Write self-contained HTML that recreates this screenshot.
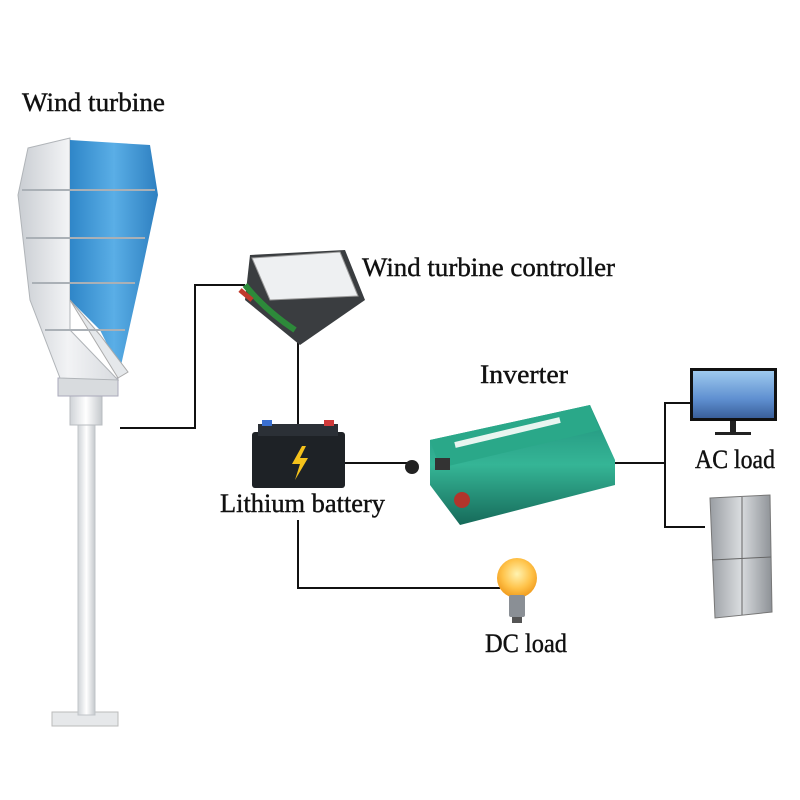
<!DOCTYPE html>
<html><head><meta charset="utf-8"><style>
html,body{margin:0;padding:0;background:#fff;}
svg{display:block}
text{font-family:"Liberation Serif",serif;font-size:26px;fill:#111;stroke:#111;stroke-width:0.4;}
</style></head><body>
<svg width="800" height="800" viewBox="0 0 800 800" xmlns="http://www.w3.org/2000/svg">
<defs>
<linearGradient id="blue" x1="0" x2="1"><stop offset="0" stop-color="#2f86c8"/><stop offset="0.5" stop-color="#5aaee6"/><stop offset="1" stop-color="#2d7fc0"/></linearGradient>
<linearGradient id="white" x1="0" x2="1"><stop offset="0" stop-color="#c9cdd2"/><stop offset="0.5" stop-color="#f2f3f5"/><stop offset="1" stop-color="#d8dbdf"/></linearGradient>
<linearGradient id="pole" x1="0" x2="1"><stop offset="0" stop-color="#cfd3d7"/><stop offset="0.5" stop-color="#ffffff"/><stop offset="1" stop-color="#c4c8cc"/></linearGradient>
<linearGradient id="green" x1="0" y1="0" x2="0" y2="1"><stop offset="0" stop-color="#1f8f7a"/><stop offset="0.5" stop-color="#35b596"/><stop offset="1" stop-color="#166a5a"/></linearGradient>
<linearGradient id="screen" x1="0" y1="0" x2="0" y2="1"><stop offset="0" stop-color="#9ec9ee"/><stop offset="0.6" stop-color="#5e8fd0"/><stop offset="1" stop-color="#3a5f9a"/></linearGradient>
<linearGradient id="fridge" x1="0" x2="1"><stop offset="0" stop-color="#9a9ea3"/><stop offset="0.5" stop-color="#d9dcdf"/><stop offset="1" stop-color="#8d9196"/></linearGradient>
<radialGradient id="bulb" cx="0.5" cy="0.4" r="0.6"><stop offset="0" stop-color="#fff3b0"/><stop offset="0.6" stop-color="#ffc34a"/><stop offset="1" stop-color="#f09a1c"/></radialGradient>
</defs>

<text x="22" y="111" textLength="143" lengthAdjust="spacingAndGlyphs">Wind turbine</text>
<text x="362" y="276" textLength="253" lengthAdjust="spacingAndGlyphs">Wind turbine controller</text>
<text x="480" y="383" textLength="88" lengthAdjust="spacingAndGlyphs">Inverter</text>
<text x="220" y="512" textLength="165" lengthAdjust="spacingAndGlyphs">Lithium battery</text>
<text x="695" y="468" textLength="80" lengthAdjust="spacingAndGlyphs">AC load</text>
<text x="485" y="652" textLength="82" lengthAdjust="spacingAndGlyphs">DC load</text>

<g stroke="#111" stroke-width="2" fill="none">
<polyline points="120,428 195,428 195,285 245,285"/>
<line x1="298" y1="340" x2="298" y2="425"/>
<line x1="345" y1="463" x2="415" y2="463"/>
<line x1="612" y1="463" x2="665" y2="463"/>
<polyline points="690,403 665,403 665,527 705,527"/>
<polyline points="298,520 298,588 500,588"/>
</g>

<rect x="52" y="712" width="66" height="14" fill="#e6e8ea" stroke="#bbb"/>
<rect x="78" y="420" width="17" height="295" fill="url(#pole)" stroke="#c0c4c8"/>
<rect x="70" y="395" width="32" height="30" fill="url(#pole)" stroke="#b8bcc0"/>
<rect x="58" y="378" width="60" height="18" fill="#d8dbde" stroke="#aab"/>
<path d="M28,148 L70,138 L70,330 L118,380 L60,378 L30,300 L18,195 Z" fill="url(#white)" stroke="#b0b4b8"/>
<path d="M70,140 L150,145 L158,195 L140,280 L120,370 L100,330 L70,300 Z" fill="url(#blue)"/>
<path d="M70,300 L118,378 L128,372 L100,335 Z" fill="#e5e8eb" stroke="#aaa"/>
<g stroke="#aab0b6" stroke-width="2">
<line x1="22" y1="190" x2="155" y2="190"/><line x1="26" y1="238" x2="145" y2="238"/><line x1="32" y1="283" x2="135" y2="283"/><line x1="45" y1="330" x2="125" y2="330"/>
</g>

<path d="M250,255 L345,250 L365,300 L300,345 L245,300 Z" fill="#3a3d40"/>
<path d="M252,258 L340,252 L358,296 L270,300 Z" fill="#eef0f2" stroke="#999"/>
<path d="M245,285 Q265,310 295,330" stroke="#2d8a3a" stroke-width="6" fill="none"/>
<path d="M240,290 L252,300" stroke="#c0392b" stroke-width="5"/>

<rect x="252" y="432" width="93" height="56" rx="3" fill="#1e2226"/>
<rect x="258" y="424" width="80" height="12" fill="#2b3036"/>
<rect x="262" y="420" width="10" height="6" fill="#3a6fd0"/><rect x="324" y="420" width="10" height="6" fill="#d03a3a"/>
<path d="M302,446 L292,464 L300,464 L295,480 L308,458 L300,458 L306,446 Z" fill="#f5c21b"/>

<path d="M430,440 L590,405 L615,460 L615,485 L460,525 L430,485 Z" fill="url(#green)"/>
<path d="M430,440 L590,405 L600,430 L440,468 Z" fill="#2aa889"/>
<path d="M455,445 L560,420" stroke="#e8f5f0" stroke-width="6"/>
<circle cx="412" cy="467" r="7" fill="#222"/>
<circle cx="462" cy="500" r="8" fill="#b0352c"/>
<rect x="435" y="458" width="15" height="12" fill="#333"/>

<rect x="690" y="368" width="87" height="53" fill="#111"/>
<rect x="693" y="371" width="81" height="47" fill="url(#screen)"/>
<rect x="730" y="421" width="6" height="12" fill="#222"/>
<rect x="715" y="432" width="36" height="3" fill="#222"/>

<path d="M710,498 L770,495 L772,612 L715,618 Z" fill="url(#fridge)" stroke="#777"/>
<line x1="742" y1="497" x2="742" y2="615" stroke="#666"/>
<line x1="712" y1="560" x2="771" y2="557" stroke="#666"/>

<circle cx="517" cy="578" r="20" fill="url(#bulb)"/>
<rect x="509" y="595" width="16" height="22" rx="2" fill="#8a8f95"/>
<rect x="512" y="617" width="10" height="6" fill="#555"/>
</svg>
</body></html>
